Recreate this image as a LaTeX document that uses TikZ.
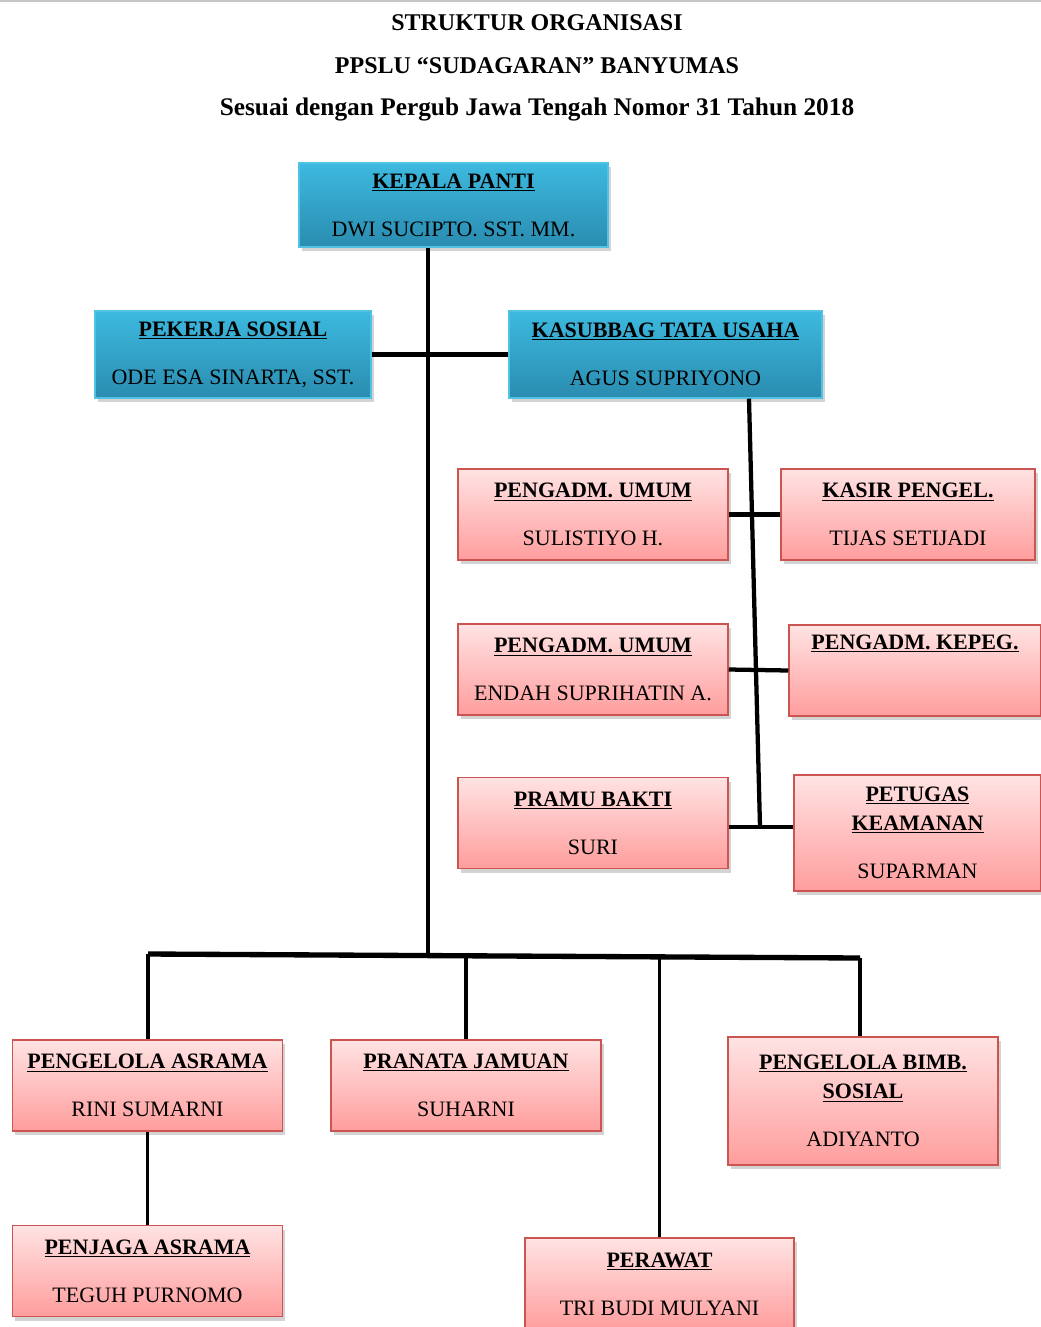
\documentclass[tikz,border=0pt]{standalone}
\usepackage{fontspec}
\setmainfont{Liberation Serif}
\usetikzlibrary{shadows,shadings}
\definecolor{birumuda}{HTML}{3DB9DF}
\definecolor{birutua}{HTML}{2A8CB0}
\definecolor{garisbiru}{HTML}{52C2E4}
\definecolor{pinkmuda}{HTML}{FFE3E3}
\definecolor{pinktua}{HTML}{FF9D9D}
\definecolor{garispink}{HTML}{CC5552}
\newcommand{\jbt}[1]{\underline{\textbf{#1}}}

\begin{document}
\begin{tikzpicture}[
    x=0.75pt, y=-0.75pt,
    kotak/.style={
        rectangle, line width=1.1pt,
        align=center, inner sep=2pt,
        font=\fontsize{16.5}{22}\selectfont,
        drop shadow={shadow xshift=2pt, shadow yshift=-3pt, opacity=0.35}
    },
    biru/.style={kotak, draw=garisbiru, top color=birumuda, bottom color=birutua},
    pink/.style={kotak, draw=garispink, top color=pinkmuda, bottom color=pinktua,
        minimum width=202.5pt, minimum height=68.25pt},
    garis/.style={line width=3.2pt},
    cabang/.style={line width=2.4pt}
]
\useasboundingbox (0,0) rectangle (1041,1327);
\draw[black!22, line width=1.5pt] (0,1) -- (1041,1);

% --- judul ---
\node[font=\fontsize{18}{32}\selectfont\bfseries, align=center] (judul) at (537,68)
    {STRUKTUR ORGANISASI\\PPSLU ``SUDAGARAN'' BANYUMAS\\
     {\fontsize{19}{32}\selectfont Sesuai dengan Pergub Jawa Tengah Nomor 31 Tahun 2018}};

% --- pimpinan ---
\node[biru, minimum width=231.75pt, minimum height=63pt] (kepala) at (453.5,205)
    {\jbt{KEPALA PANTI}\\[14pt] DWI SUCIPTO. SST. MM.};
\node[biru, minimum width=207pt, minimum height=65.25pt] (pekerja) at (233,354.5)
    {\jbt{PEKERJA SOSIAL}\\[14pt] ODE ESA SINARTA, SST.};
\node[biru, minimum width=234.75pt, minimum height=65.25pt] (kasubbag) at (665.5,354.5)
    {\jbt{KASUBBAG TATA USAHA}\\[14pt] AGUS SUPRIYONO};

% --- tata usaha ---
\node[pink] (umum1) at (593,514.5) {\jbt{PENGADM. UMUM}\\[14pt] SULISTIYO H.};
\node[pink, minimum width=190.5pt] (kasir) at (908,514.5) {\jbt{KASIR PENGEL.}\\[14pt] TIJAS SETIJADI};
\node[pink] (umum2) at (593,669.5) {\jbt{PENGADM. UMUM}\\[14pt] ENDAH SUPRIHATIN A.};
\node[pink, minimum width=189pt] (kepeg) at (915,670.5) {\jbt{PENGADM. KEPEG.}\\[14pt] \strut};
\node[pink] (pramu) at (593,823) {\jbt{PRAMU BAKTI}\\[14pt] SURI};
\node[pink, minimum width=185.25pt, minimum height=87pt] (petugas) at (917.5,833)
    {\jbt{PETUGAS}\\\jbt{KEAMANAN}\\[14pt] SUPARMAN};

% --- pelaksana ---
\node[pink] (asrama) at (147.5,1085.5) {\jbt{PENGELOLA ASRAMA}\\[14pt] RINI SUMARNI};
\node[pink] (pranata) at (466,1085.5) {\jbt{PRANATA JAMUAN}\\[14pt] SUHARNI};
\node[pink, minimum height=96pt] (bimb) at (863,1101)
    {\jbt{PENGELOLA BIMB.}\\\jbt{SOSIAL}\\[14pt] ADIYANTO};
\node[pink] (penjaga) at (147.5,1271) {\jbt{PENJAGA ASRAMA}\\[14pt] TEGUH PURNOMO};
\node[pink, minimum width=201.75pt, minimum height=69pt] (perawat) at (659.5,1284)
    {\jbt{PERAWAT}\\[14pt] TRI BUDI MULYANI};

% --- garis ---
\coordinate (bus) at (428,955);
\coordinate (tuatas) at (749,398);
\coordinate (tubawah) at (760,827);
\coordinate (buskiri) at (148,954);
\coordinate (buskanan) at (860,958);

\draw[garis] (kepala.south -| bus) -- (bus);
\draw[garis] (pekerja.east) -- (kasubbag.west);
\draw[garis] (kasubbag.south -| tuatas) -- (tubawah);
\draw[garis] (umum1.east) -- (kasir.west);
\draw[garis] (umum2.east) -- (kepeg.west);
\draw[garis] (pramu.east |- tubawah) -- (petugas.west |- tubawah);

\draw[garis, line width=4pt] (buskiri) -- (buskanan);
\draw[cabang] (buskiri) -- (asrama.north -| buskiri);
\draw[cabang] (pranata.north |- bus) -- (pranata.north);
\draw[cabang] (perawat.north |- bus) -- (perawat.north);
\draw[cabang] (buskanan) -- (bimb.north -| buskanan);
\draw[cabang] (asrama.south) -- (penjaga.north);

\end{tikzpicture}
\end{document}
